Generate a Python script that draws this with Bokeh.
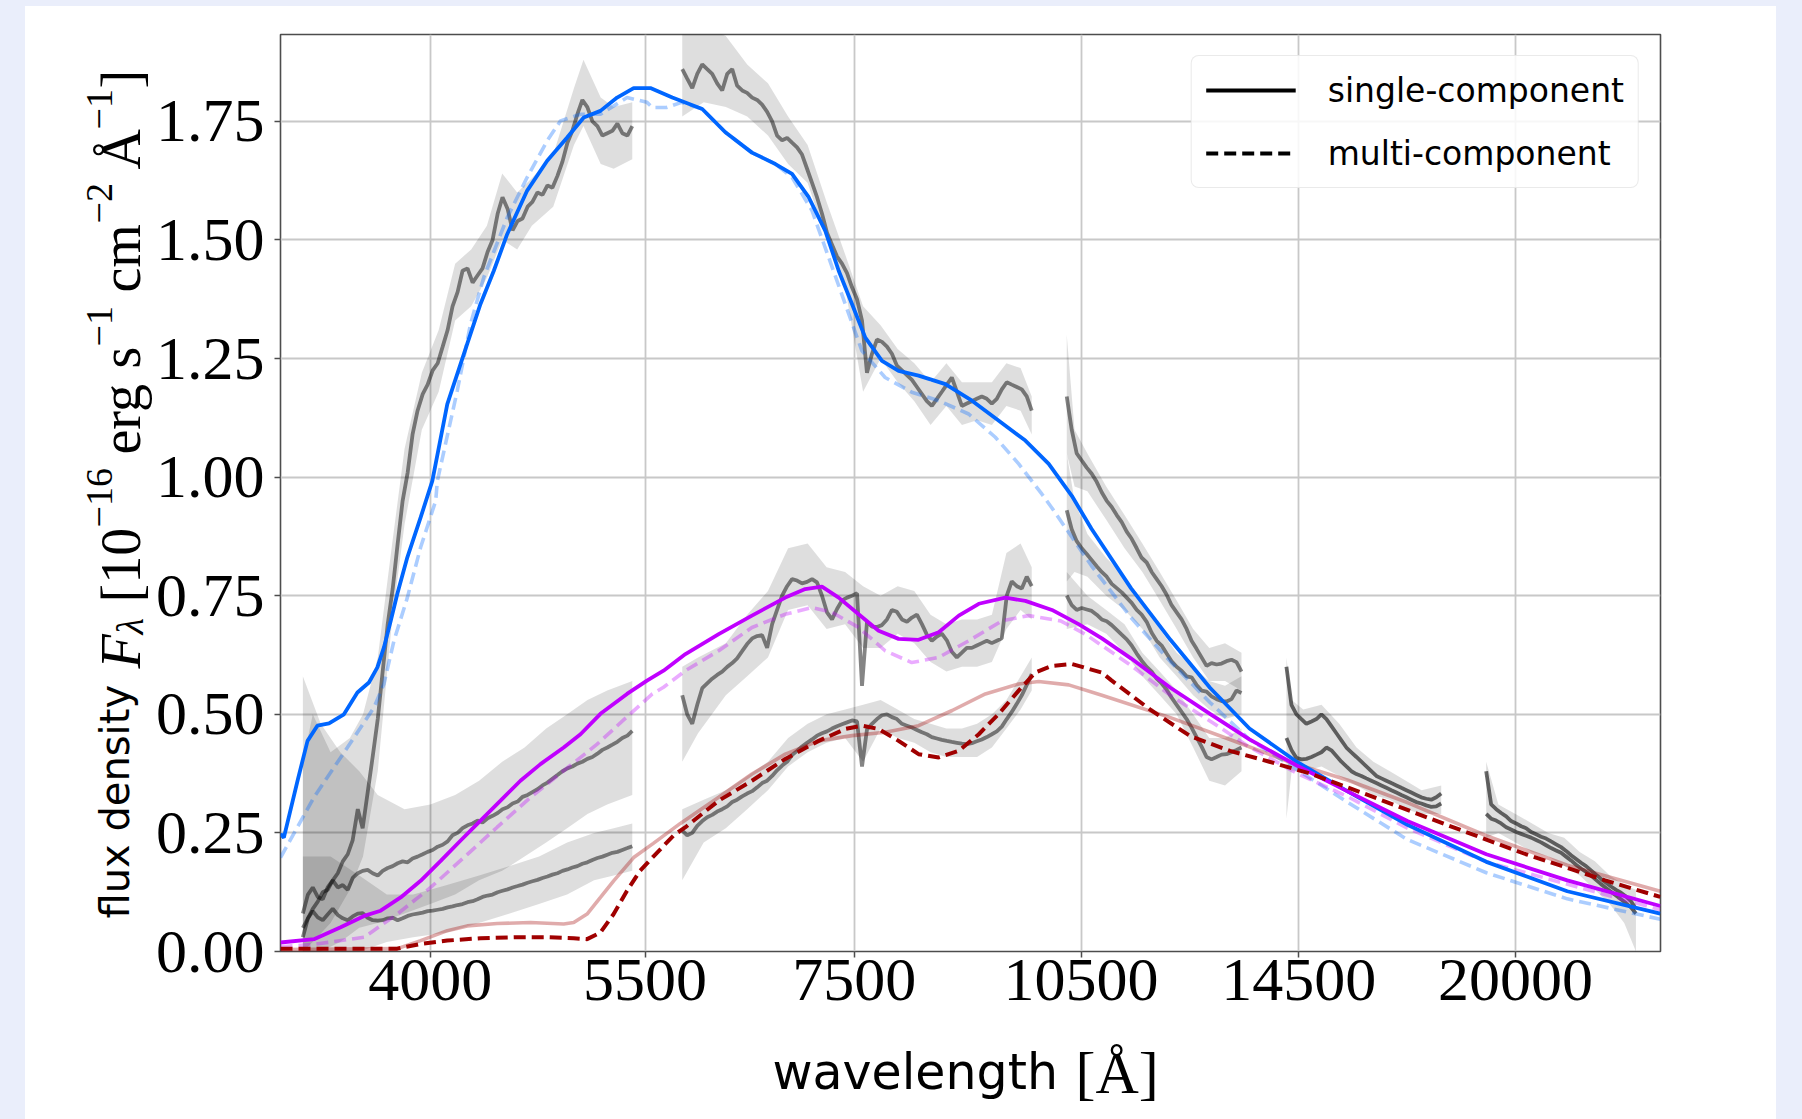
import math
from bokeh.plotting import figure
from bokeh.layouts import row, column
from bokeh.models import Range1d, FixedTicker, PrintfTickFormatter, Label, Legend, LegendItem, BasicTickFormatter
from bokeh.embed import file_html
from bokeh.resources import INLINE

# ---------------- data (wavelength in Angstrom, flux in 1e-16 erg/s/cm2/A) ----------------
# epoch-1 model, single component (solid) and multi component (dashed)
blue_single_wl = [3203, 3219, 3285, 3334, 3383, 3442, 3519, 3590, 3652, 3698, 3734, 3772, 3809, 3866, 3943, 4012,
                  4102, 4225, 4309, 4395, 4483, 4618, 4757, 4900, 5022, 5148, 5277, 5408, 5544, 5727, 5987, 6196,
                  6445, 6673, 6840, 7011, 7186, 7330, 7476, 7625, 7816, 8011, 8252, 8587, 8932, 9295, 9668, 10009,
                  10360, 10664, 11307, 11989, 12713, 13480, 14459, 15602, 17037, 19155, 21597, 24792]
blue_single_fl = [0.248, 0.240, 0.360, 0.444, 0.476, 0.481, 0.500, 0.546, 0.567, 0.599, 0.641, 0.697, 0.754, 0.831,
                  0.915, 0.992, 1.154, 1.281, 1.365, 1.435, 1.512, 1.604, 1.667, 1.716, 1.758, 1.772, 1.800, 1.820,
                  1.820, 1.800, 1.776, 1.727, 1.684, 1.660, 1.639, 1.590, 1.519, 1.435, 1.365, 1.294, 1.245, 1.224,
                  1.214, 1.196, 1.161, 1.119, 1.077, 1.028, 0.960, 0.891, 0.766, 0.657, 0.556, 0.470, 0.400, 0.337,
                  0.267, 0.189, 0.127, 0.080]
blue_multi_wl = [3203, 3366, 3537, 3680, 3734, 3790, 3866, 3943, 4032, 4042, 4163, 4246, 4330, 4483, 4618, 4757,
                 4852, 4998, 5148, 5355, 5516, 5560, 5676, 5806, 5987, 6196, 6445, 6673, 6840, 7045, 7222, 7401,
                 7587, 7853, 8169, 8502, 8889, 9247, 9573, 9909, 10057, 10664, 11307, 11989, 12713, 13480, 14459,
                 15602, 17037, 19155, 21597, 24792]
blue_multi_fl = [0.198, 0.325, 0.430, 0.515, 0.564, 0.655, 0.746, 0.852, 0.950, 0.992, 1.182, 1.323, 1.421, 1.547,
                 1.632, 1.709, 1.751, 1.765, 1.765, 1.800, 1.790, 1.779, 1.779, 1.790, 1.776, 1.727, 1.684, 1.660,
                 1.632, 1.562, 1.463, 1.365, 1.266, 1.210, 1.179, 1.161, 1.133, 1.084, 1.028, 0.964, 0.935, 0.813,
                 0.704, 0.611, 0.525, 0.447, 0.384, 0.314, 0.236, 0.166, 0.111, 0.068]

# epoch-2 model
mag_single_wl = [3203, 3366, 3502, 3626, 3716, 3828, 3943, 4062, 4184, 4309, 4439, 4572, 4710, 4875, 4998, 5148,
                 5355, 5516, 5653, 5840, 6135, 6445, 6772, 6975, 7150, 7330, 7550, 7777, 8011, 8252, 8502, 8759,
                 9023, 9385, 9668, 10057, 10462, 10830, 11307, 11989, 12713, 13480, 14459, 15602, 17037, 19155,
                 21597, 24792]
mag_single_fl = [0.019, 0.026, 0.051, 0.075, 0.086, 0.114, 0.149, 0.191, 0.234, 0.276, 0.318, 0.360, 0.395, 0.430,
                 0.458, 0.501, 0.543, 0.571, 0.592, 0.627, 0.669, 0.708, 0.746, 0.764, 0.769, 0.746, 0.711, 0.676,
                 0.659, 0.657, 0.673, 0.708, 0.733, 0.746, 0.739, 0.720, 0.690, 0.660, 0.618, 0.556, 0.501, 0.447,
                 0.392, 0.337, 0.275, 0.205, 0.150, 0.096]
mag_multi_wl = [3203, 3366, 3626, 3809, 4002, 4204, 4417, 4641, 4875, 5123, 5381, 5560, 5653, 5840, 6135, 6445,
                6772, 7045, 7258, 7550, 7853, 8169, 8502, 8889, 9340, 9716, 10187, 10566, 11307, 11989, 12713,
                13480, 14459, 15602, 17037, 19155, 24792]
mag_multi_fl = [0.010, 0.015, 0.030, 0.079, 0.135, 0.198, 0.262, 0.325, 0.381, 0.437, 0.501, 0.543, 0.557, 0.592,
                0.634, 0.683, 0.711, 0.725, 0.715, 0.683, 0.634, 0.609, 0.620, 0.655, 0.697, 0.708, 0.697, 0.669,
                0.603, 0.540, 0.486, 0.431, 0.376, 0.326, 0.260, 0.189, 0.088]

# epoch-3 model
red_multi_wl = [3203, 3809, 3943, 4102, 4309, 4527, 4757, 4948, 5047, 5148, 5250, 5355, 5459, 5568, 5739, 5840,
                6135, 6445, 6772, 7116, 7401, 7587, 7777, 8011, 8252, 8502, 8759, 9023, 9295, 9573, 9811, 10057,
                10360, 10830, 10980, 11645, 12347, 13096, 13885, 14720, 16066, 18060, 20313, 22842, 24792]
red_multi_fl = [0.006, 0.006, 0.016, 0.023, 0.028, 0.030, 0.030, 0.028, 0.026, 0.040, 0.079, 0.128, 0.170, 0.200,
                0.245, 0.262, 0.318, 0.360, 0.406, 0.444, 0.469, 0.476, 0.469, 0.444, 0.416, 0.409, 0.423, 0.458,
                0.501, 0.550, 0.588, 0.602, 0.606, 0.588, 0.572, 0.509, 0.454, 0.423, 0.400, 0.376, 0.330, 0.267,
                0.205, 0.150, 0.115]
red_single_wl = [3203, 3809, 3943, 4102, 4225, 4417, 4641, 4875, 4948, 5047, 5148, 5250, 5408, 5568, 5796, 6135,
                 6445, 6772, 7116, 7476, 7853, 8252, 8673, 9111, 9573, 9860, 10310, 10830, 11989, 13096, 14291,
                 15602, 17037, 19155, 21597, 24792]
red_single_fl = [0.004, 0.006, 0.023, 0.044, 0.054, 0.059, 0.061, 0.058, 0.061, 0.079, 0.114, 0.149, 0.198, 0.228,
                 0.270, 0.325, 0.374, 0.416, 0.444, 0.455, 0.462, 0.476, 0.508, 0.543, 0.564, 0.569, 0.562, 0.540,
                 0.493, 0.447, 0.400, 0.361, 0.314, 0.244, 0.182, 0.127]

# observed spectra, optical blue arm (shared wavelength grid)
obs_a_wl = [3311, 3336, 3360, 3385, 3410, 3435, 3461, 3487, 3513, 3539, 3565, 3592, 3618, 3645, 3672, 3700, 3727,
            3755, 3783, 3811, 3839, 3868, 3896, 3925, 3955, 3984, 4014, 4044, 4074, 4104, 4134, 4165, 4196, 4227,
            4259, 4290, 4322, 4355, 4387, 4420, 4452, 4486, 4519, 4553, 4586, 4621, 4654, 4689, 4724, 4759, 4794,
            4830, 4866, 4902, 4938, 4975, 5012, 5049, 5087, 5125, 5163, 5201, 5240, 5279, 5318, 5358, 5397]
obs1_a = [0.03, 0.07, 0.09, 0.105, 0.125, 0.13, 0.15, 0.165, 0.19, 0.205, 0.235, 0.30, 0.26, 0.335, 0.41, 0.49,
          0.59, 0.69, 0.765, 0.86, 0.95, 1.01, 1.09, 1.14, 1.175, 1.195, 1.225, 1.24, 1.275, 1.31, 1.36, 1.39, 1.435,
          1.44, 1.41, 1.425, 1.44, 1.475, 1.50, 1.555, 1.59, 1.565, 1.52, 1.54, 1.545, 1.57, 1.58, 1.6, 1.595, 1.615,
          1.61, 1.635, 1.665, 1.705, 1.73, 1.765, 1.795, 1.78, 1.75, 1.74, 1.72, 1.725, 1.73, 1.745, 1.725, 1.72, 1.74]
obs2_a = [0.08, 0.12, 0.135, 0.115, 0.11, 0.135, 0.15, 0.135, 0.14, 0.13, 0.155, 0.165, 0.17, 0.172, 0.165, 0.16,
          0.17, 0.176, 0.18, 0.186, 0.19, 0.188, 0.196, 0.20, 0.205, 0.21, 0.214, 0.221, 0.225, 0.232, 0.245, 0.25,
          0.26, 0.266, 0.27, 0.276, 0.272, 0.281, 0.286, 0.292, 0.30, 0.304, 0.312, 0.316, 0.326, 0.33, 0.336, 0.342,
          0.35, 0.356, 0.364, 0.372, 0.38, 0.386, 0.39, 0.396, 0.40, 0.406, 0.41, 0.417, 0.425, 0.43, 0.436, 0.442,
          0.45, 0.455, 0.465]
obs3_a = [0.05, 0.07, 0.085, 0.072, 0.066, 0.078, 0.09, 0.077, 0.07, 0.066, 0.074, 0.08, 0.081, 0.071, 0.066,
          0.065, 0.066, 0.07, 0.071, 0.066, 0.07, 0.075, 0.078, 0.08, 0.082, 0.085, 0.086, 0.088, 0.09, 0.093, 0.095,
          0.098, 0.10, 0.104, 0.106, 0.11, 0.115, 0.118, 0.12, 0.125, 0.128, 0.131, 0.135, 0.138, 0.141, 0.145,
          0.148, 0.151, 0.155, 0.158, 0.162, 0.165, 0.17, 0.173, 0.177, 0.18, 0.185, 0.188, 0.193, 0.197, 0.20,
          0.204, 0.208, 0.21, 0.214, 0.218, 0.222]

# observed spectra, optical red arm
obs_b_wl = [5812, 5855, 5899, 5943, 5987, 6031, 6076, 6121, 6167, 6213, 6259, 6305, 6352, 6399, 6447, 6495, 6543,
            6592, 6641, 6690, 6740, 6790, 6840, 6891, 6942, 6994, 7046, 7098, 7151, 7204, 7258, 7312, 7366, 7421,
            7476, 7532, 7588, 7644, 7701, 7758, 7816, 7874, 7932, 7991, 8051, 8111, 8171, 8232, 8293, 8354, 8416,
            8479, 8542, 8605, 8669, 8734, 8799, 8864, 8930, 8996, 9063, 9131, 9199, 9267, 9336, 9405, 9475, 9546,
            9617, 9688, 9760]
obs1_b = [1.86, 1.84, 1.82, 1.85, 1.87, 1.86, 1.85, 1.83, 1.815, 1.85, 1.86, 1.825, 1.815, 1.81, 1.80, 1.795,
          1.785, 1.77, 1.75, 1.72, 1.71, 1.715, 1.705, 1.695, 1.68, 1.65, 1.62, 1.59, 1.555, 1.515, 1.49, 1.465,
          1.45, 1.43, 1.40, 1.375, 1.33, 1.22, 1.26, 1.29, 1.285, 1.275, 1.26, 1.235, 1.225, 1.215, 1.205, 1.19,
          1.175, 1.16, 1.15, 1.165, 1.18, 1.195, 1.21, 1.18, 1.15, 1.155, 1.16, 1.165, 1.17, 1.165, 1.155, 1.165,
          1.185, 1.20, 1.195, 1.19, 1.185, 1.17, 1.14]
obs2_b = [0.54, 0.50, 0.48, 0.52, 0.555, 0.565, 0.575, 0.583, 0.59, 0.60, 0.608, 0.618, 0.633, 0.648, 0.66, 0.665,
          0.667, 0.64, 0.69, 0.72, 0.75, 0.77, 0.785, 0.782, 0.776, 0.779, 0.785, 0.778, 0.75, 0.715, 0.70, 0.722,
          0.74, 0.746, 0.75, 0.755, 0.56, 0.695, 0.685, 0.684, 0.688, 0.70, 0.72, 0.716, 0.70, 0.695, 0.704, 0.71,
          0.69, 0.668, 0.655, 0.664, 0.67, 0.656, 0.632, 0.62, 0.63, 0.64, 0.64, 0.645, 0.65, 0.655, 0.65, 0.655,
          0.66, 0.75, 0.78, 0.77, 0.765, 0.79, 0.77]
obs3_b = [0.255, 0.245, 0.25, 0.265, 0.275, 0.283, 0.288, 0.295, 0.30, 0.306, 0.315, 0.32, 0.327, 0.333, 0.338,
          0.346, 0.355, 0.36, 0.37, 0.382, 0.392, 0.40, 0.414, 0.423, 0.432, 0.44, 0.447, 0.455, 0.46, 0.464, 0.47,
          0.475, 0.479, 0.483, 0.487, 0.485, 0.39, 0.468, 0.48, 0.49, 0.498, 0.50, 0.494, 0.49, 0.48, 0.476, 0.472,
          0.467, 0.462, 0.458, 0.452, 0.449, 0.446, 0.444, 0.442, 0.44, 0.438, 0.437, 0.439, 0.443, 0.447, 0.452,
          0.458, 0.464, 0.474, 0.49, 0.505, 0.522, 0.54, 0.562, 0.585]

# observed spectra, near-IR arm
obs_c_wl = [10280, 10356, 10433, 10511, 10589, 10668, 10747, 10827, 10908, 10989, 11071, 11153, 11236, 11319, 11404,
            11488, 11574, 11660, 11747, 11834, 11922, 12010, 12100, 12189, 12280, 12371, 12463, 12556, 12649, 12743,
            12838, 12933, 13029, 13126, 13224, 13322]
obs1_c = [1.17, 1.10, 1.05, 1.035, 1.02, 1.007, 0.99, 0.968, 0.95, 0.937, 0.92, 0.905, 0.885, 0.87, 0.85, 0.83,
          0.82, 0.80, 0.785, 0.77, 0.752, 0.73, 0.715, 0.70, 0.68, 0.655, 0.638, 0.62, 0.602, 0.608, 0.605, 0.607,
          0.612, 0.615, 0.61, 0.59]
obs2_c = [0.93, 0.89, 0.865, 0.85, 0.838, 0.825, 0.812, 0.80, 0.79, 0.775, 0.766, 0.757, 0.746, 0.735, 0.72, 0.71,
          0.695, 0.672, 0.655, 0.645, 0.628, 0.612, 0.60, 0.592, 0.58, 0.578, 0.562, 0.55, 0.548, 0.538, 0.532,
          0.528, 0.527, 0.532, 0.55, 0.545]
obs3_c = [0.75, 0.73, 0.72, 0.724, 0.721, 0.718, 0.71, 0.70, 0.696, 0.688, 0.678, 0.668, 0.658, 0.645, 0.628,
          0.613, 0.60, 0.59, 0.575, 0.565, 0.552, 0.535, 0.52, 0.505, 0.49, 0.472, 0.452, 0.432, 0.41, 0.405, 0.41,
          0.415, 0.416, 0.42, 0.425, 0.43]

obs_d_wl = [14240, 14346, 14453, 14560, 14668, 14778, 14888, 14998, 15110, 15222, 15335, 15449, 15564, 15680, 15797,
            15914, 16032, 16151, 16271, 16392, 16514, 16637, 16761, 16885, 17011, 17137, 17264, 17392, 17521, 17652,
            17783, 17915]
obs1_d = [0.60, 0.52, 0.50, 0.49, 0.48, 0.485, 0.49, 0.50, 0.49, 0.475, 0.46, 0.445, 0.43, 0.42, 0.41, 0.40, 0.39,
          0.38, 0.37, 0.365, 0.36, 0.355, 0.35, 0.345, 0.34, 0.335, 0.33, 0.325, 0.322, 0.32, 0.325, 0.333]
obs2_d = [0.45, 0.425, 0.408, 0.405, 0.406, 0.41, 0.415, 0.42, 0.43, 0.424, 0.412, 0.40, 0.39, 0.38, 0.374, 0.37,
          0.365, 0.36, 0.355, 0.35, 0.345, 0.34, 0.335, 0.33, 0.325, 0.32, 0.315, 0.312, 0.308, 0.305, 0.306, 0.312]

obs_e_wl = [19150, 19292, 19436, 19580, 19726, 19872, 20020, 20169, 20319, 20470, 20622, 20775, 20930, 21085, 21242,
            21400, 21559, 21719, 21881, 22043, 22207, 22372, 22538, 22706, 22875, 23045, 23216, 23388, 23562, 23737,
            23913]
obs1_e = [0.38, 0.31, 0.30, 0.292, 0.285, 0.275, 0.27, 0.264, 0.26, 0.252, 0.247, 0.242, 0.238, 0.232, 0.226, 0.22,
          0.212, 0.203, 0.195, 0.187, 0.18, 0.171, 0.162, 0.153, 0.145, 0.137, 0.13, 0.124, 0.116, 0.106, 0.09]
obs2_e = [0.29, 0.28, 0.276, 0.27, 0.262, 0.257, 0.252, 0.248, 0.244, 0.24, 0.235, 0.23, 0.224, 0.218, 0.213, 0.208,
          0.20, 0.192, 0.183, 0.175, 0.168, 0.16, 0.151, 0.142, 0.134, 0.126, 0.118, 0.11, 0.102, 0.093, 0.08]

# uncertainty envelopes (wavelength, lower, upper)
band1_a = ([3311, 3360, 3450, 3550, 3620, 3700, 3780, 3850, 3950, 4050, 4150, 4250, 4350, 4450, 4550, 4650, 4800,
            4950, 5020, 5150, 5250, 5397],
           [0.00, 0.02, 0.06, 0.13, 0.20, 0.38, 0.70, 0.90, 1.10, 1.18, 1.33, 1.36, 1.42, 1.50, 1.48, 1.53, 1.57,
            1.70, 1.74, 1.66, 1.65, 1.67],
           [0.40, 0.50, 0.42, 0.45, 0.50, 0.62, 0.86, 1.06, 1.22, 1.31, 1.45, 1.48, 1.53, 1.64, 1.60, 1.63, 1.68,
            1.82, 1.88, 1.80, 1.78, 1.79])
band2_a = ([3311, 3400, 3500, 3600, 3700, 3850, 4000, 4150, 4300, 4450, 4600, 4750, 4900, 5050, 5200, 5397],
           [0.00, 0.00, 0.02, 0.05, 0.06, 0.08, 0.10, 0.12, 0.15, 0.17, 0.20, 0.23, 0.26, 0.29, 0.31, 0.33],
           [0.58, 0.48, 0.42, 0.38, 0.33, 0.30, 0.31, 0.33, 0.36, 0.40, 0.43, 0.47, 0.50, 0.53, 0.55, 0.57])
band3_a = ([3311, 3450, 3600, 3750, 3900, 4100, 4300, 4500, 4700, 4900, 5100, 5250, 5397],
           [0.00, 0.00, 0.00, 0.02, 0.03, 0.04, 0.06, 0.08, 0.10, 0.12, 0.15, 0.16, 0.17],
           [0.20, 0.20, 0.16, 0.12, 0.12, 0.14, 0.16, 0.18, 0.20, 0.23, 0.25, 0.26, 0.27])
band1_b = ([5812, 6000, 6200, 6400, 6600, 6800, 7000, 7200, 7400, 7600, 7800, 8000, 8200, 8400, 8600, 8800, 9000,
            9200, 9400, 9600, 9760],
           [1.76, 1.79, 1.78, 1.76, 1.72, 1.66, 1.62, 1.50, 1.40, 1.18, 1.25, 1.20, 1.16, 1.11, 1.15, 1.11, 1.12,
            1.11, 1.15, 1.14, 1.09],
           [1.95, 1.95, 1.93, 1.87, 1.83, 1.76, 1.70, 1.58, 1.47, 1.36, 1.32, 1.27, 1.24, 1.20, 1.24, 1.20, 1.20,
            1.20, 1.24, 1.23, 1.17])
band2_b = ([5812, 5950, 6200, 6400, 6600, 6800, 7000, 7200, 7400, 7600, 7800, 8000, 8200, 8400, 8600, 8800, 9000,
            9200, 9400, 9600, 9760],
           [0.40, 0.46, 0.54, 0.58, 0.62, 0.72, 0.73, 0.68, 0.69, 0.64, 0.64, 0.67, 0.65, 0.61, 0.59, 0.60, 0.60,
            0.61, 0.68, 0.72, 0.70],
           [0.60, 0.62, 0.65, 0.71, 0.76, 0.85, 0.86, 0.81, 0.80, 0.77, 0.75, 0.77, 0.76, 0.71, 0.69, 0.70, 0.70,
            0.71, 0.84, 0.86, 0.81])
band3_b = ([5812, 6000, 6200, 6400, 6600, 6800, 7000, 7200, 7400, 7600, 7800, 8000, 8200, 8400, 8600, 8800, 9000,
            9200, 9400, 9600, 9760],
           [0.15, 0.23, 0.26, 0.30, 0.34, 0.39, 0.42, 0.44, 0.45, 0.40, 0.47, 0.45, 0.44, 0.42, 0.41, 0.41, 0.41,
            0.43, 0.47, 0.51, 0.55],
           [0.30, 0.32, 0.34, 0.37, 0.40, 0.45, 0.48, 0.50, 0.51, 0.52, 0.53, 0.51, 0.49, 0.48, 0.47, 0.47, 0.48,
            0.50, 0.53, 0.58, 0.62])
band1_c = ([10280, 10400, 10600, 10900, 11200, 11500, 11800, 12100, 12400, 12700, 13000, 13322],
           [1.05, 0.98, 0.97, 0.91, 0.85, 0.80, 0.74, 0.68, 0.62, 0.57, 0.57, 0.55],
           [1.30, 1.10, 1.05, 0.98, 0.92, 0.86, 0.80, 0.74, 0.68, 0.64, 0.65, 0.63])
band2_c = ([10280, 10400, 10600, 10900, 11200, 11500, 11800, 12100, 12400, 12700, 13000, 13322],
           [0.78, 0.80, 0.79, 0.75, 0.72, 0.68, 0.62, 0.58, 0.54, 0.51, 0.49, 0.50],
           [1.05, 0.95, 0.88, 0.83, 0.79, 0.74, 0.68, 0.63, 0.60, 0.57, 0.56, 0.58])
band3_c = ([10280, 10600, 10900, 11200, 11500, 11800, 12100, 12400, 12700, 13000, 13322],
           [0.68, 0.69, 0.67, 0.63, 0.58, 0.54, 0.50, 0.43, 0.36, 0.35, 0.38],
           [0.80, 0.75, 0.72, 0.69, 0.63, 0.59, 0.55, 0.50, 0.45, 0.45, 0.47])
band_d = ([14240, 14350, 14600, 15000, 15400, 15800, 16200, 16600, 17000, 17400, 17915],
          [0.28, 0.38, 0.38, 0.39, 0.37, 0.35, 0.33, 0.32, 0.30, 0.29, 0.29],
          [0.62, 0.53, 0.51, 0.52, 0.48, 0.43, 0.40, 0.38, 0.36, 0.34, 0.35])
band_e = ([19150, 19500, 20000, 20500, 21000, 21500, 22000, 22500, 23000, 23500, 23913],
          [0.24, 0.25, 0.23, 0.21, 0.20, 0.18, 0.16, 0.13, 0.10, 0.06, 0.00],
          [0.40, 0.31, 0.29, 0.27, 0.25, 0.24, 0.21, 0.19, 0.16, 0.14, 0.13])

x_ticks = [4000, 5500, 7500, 10500, 14500, 20000]
y_ticks = [0.0, 0.25, 0.5, 0.75, 1.0, 1.25, 1.5, 1.75]

# ---------------- layout geometry (pixels) ----------------
CARD_L, CARD_T, CARD_R, CARD_B = 25, 6, 1776, 1119
YLAB_W = 127                      # strip holding the y-axis title
MAIN_H = 1034                     # main figure height
MAIN_W = CARD_R - CARD_L - YLAB_W
FRAME_L = 277.7                   # page x of the main frame's left edge


def no_align(fig):
    try:
        fig.frame_align = False
        return True
    except Exception:
        return False


p = figure(width=MAIN_W, height=MAIN_H, x_axis_type="log", output_backend="svg", toolbar_location=None,
           x_range=Range1d(3203, 24800), y_range=Range1d(0, 1.933),
           min_border_left=126, min_border_right=116, min_border_top=28, min_border_bottom=89)
no_align(p)
p.background_fill_color = "white"
p.border_fill_color = "white"
p.outline_line_color = "#4d4d4d"
p.outline_line_width = 1.6

p.xaxis.ticker = FixedTicker(ticks=x_ticks, minor_ticks=[])
p.xaxis.formatter = BasicTickFormatter(use_scientific=False)
p.yaxis.ticker = FixedTicker(ticks=y_ticks, minor_ticks=[])
p.yaxis.formatter = PrintfTickFormatter(format="%.2f")
for ax in (p.xaxis, p.yaxis):
    ax.axis_line_color = None
    ax.major_tick_in = 0
    ax.major_tick_out = 6
    ax.major_tick_line_color = "#4d4d4d"
    ax.major_tick_line_width = 1.5
    ax.minor_tick_line_color = None
    ax.major_label_text_font = "Liberation Serif"
    ax.major_label_text_font_size = "62px"
    ax.major_label_text_color = "black"
p.xaxis.major_label_standoff = 2
p.yaxis.major_label_standoff = 10
p.xgrid.grid_line_color = "#c8c8c8"
p.ygrid.grid_line_color = "#c8c8c8"
p.xgrid.grid_line_width = 1.8
p.ygrid.grid_line_width = 1.8

# uncertainty envelopes
for bx, blo, bhi in (band1_a, band2_a, band3_a, band1_b, band2_b, band3_b, band1_c, band2_c, band3_c, band_d, band_e):
    p.varea(x=bx, y1=blo, y2=bhi, fill_color="black", fill_alpha=0.13)

# observed spectra
for wl, fl in ((obs_a_wl, obs1_a), (obs_a_wl, obs2_a), (obs_a_wl, obs3_a),
               (obs_b_wl, obs1_b), (obs_b_wl, obs2_b), (obs_b_wl, obs3_b),
               (obs_c_wl, obs1_c), (obs_c_wl, obs2_c), (obs_c_wl, obs3_c)):
    p.line(wl, fl, line_color="black", line_alpha=0.48, line_width=3.8)
for wl, fl in ((obs_d_wl, obs1_d), (obs_d_wl, obs2_d), (obs_e_wl, obs1_e), (obs_e_wl, obs2_e)):
    p.line(wl, fl, line_color="black", line_alpha=0.58, line_width=3.8)

BLUE, MAG, RED = "#0066ff", "#c000ff", "#a00000"
DASH = "12 6"
# faded (non-preferred) models
p.line(blue_multi_wl, blue_multi_fl, line_color=BLUE, line_alpha=0.33, line_width=3.6, line_dash=DASH)
p.line(mag_multi_wl, mag_multi_fl, line_color=MAG, line_alpha=0.33, line_width=3.6, line_dash=DASH)
p.line(red_single_wl, red_single_fl, line_color=RED, line_alpha=0.33, line_width=3.6)
# highlighted models
p.line(blue_single_wl, blue_single_fl, line_color=BLUE, line_width=3.8)
p.line(mag_single_wl, mag_single_fl, line_color=MAG, line_width=3.8)
p.line(red_multi_wl, red_multi_fl, line_color=RED, line_width=4.0, line_dash=DASH)

# legend with black proxies
r_single = p.line([float("nan")], [float("nan")], line_color="black", line_width=3.8)
r_multi = p.line([float("nan")], [float("nan")], line_color="black", line_width=3.8, line_dash=DASH)
legend = Legend(items=[LegendItem(label="single-component", renderers=[r_single]),
                       LegendItem(label="multi-component", renderers=[r_multi])],
                location="top_right", margin=21, padding=14, spacing=23,
                glyph_width=90, glyph_height=40, label_height=40, label_standoff=32,
                label_text_font="DejaVu Sans", label_text_font_size="33px", label_text_color="black",
                border_line_color="#d6d6d6", border_line_width=1.5,
                background_fill_color="white", background_fill_alpha=0.85)
try:
    legend.border_radius = 8
except Exception:
    pass
p.add_layout(legend)


# ---------------- axis titles: separate strips whose frames fill the whole strip ----------------
def strip(w, h):
    f = figure(width=w, height=h, output_backend="svg", toolbar_location=None,
               x_range=Range1d(0, w), y_range=Range1d(0, h), min_border=0,
               x_axis_location=None, y_axis_location=None)
    f.grid.visible = False
    f.outline_line_color = None
    f.background_fill_color = "white"
    f.border_fill_color = "white"
    return f


ylab = strip(YLAB_W, CARD_B - CARD_T)
xlab = strip(MAIN_W, CARD_B - CARD_T - MAIN_H)
no_align(ylab)
xl_ok = no_align(xlab)
SERIF = "Liberation Serif"


def put(fig, left, text, px, py, font, size, angle=0.0, style="normal"):
    # px, py: page position of the text anchor
    fig.add_layout(Label(x=px - left, y=CARD_B - py, x_units="screen", y_units="screen", text=text,
                         angle=angle, text_font=font, text_font_size=f"{size}px", text_font_style=style,
                         text_align="left", text_baseline="alphabetic", text_color="black"))


R = math.pi / 2
YL = CARD_L
put(ylab, YL, "flux density", 114, 918, "DejaVu Sans", 40, R)
put(ylab, YL, "F", 120, 668, SERIF, 56, R, "italic")
put(ylab, YL, "λ", 129, 634, SERIF, 38, R, "italic")
put(ylab, YL, "[10", 120, 602, SERIF, 56, R)
put(ylab, YL, "−16", 99, 527, SERIF, 38, R)
put(ylab, YL, "erg", 120, 454, SERIF, 56, R)
put(ylab, YL, "s", 120, 368, SERIF, 56, R)
put(ylab, YL, "−1", 99, 346, SERIF, 38, R)
put(ylab, YL, "cm", 120, 292, SERIF, 56, R)
put(ylab, YL, "−2", 99, 223, SERIF, 38, R)
put(ylab, YL, "Å", 120, 169, SERIF, 56, R)
put(ylab, YL, "−1", 99, 129, SERIF, 38, R)
put(ylab, YL, "]", 120, 88, SERIF, 56, R)

XL = (CARD_L + YLAB_W) if xl_ok else FRAME_L
put(xlab, XL, "wavelength", 772, 1072, "DejaVu Sans", 49)
put(xlab, XL, "[Å]", 1075, 1072, SERIF, 60)

layout = row(ylab, column(p, xlab, spacing=0), spacing=0)
layout.margin = (CARD_T, 0, 0, CARD_L)
try:
    layout.styles = {"background-color": "white"}
except Exception:
    pass

html = file_html(layout, INLINE)
html = html.replace("<head>", "<head><style>html,body{margin:0;padding:0;background:#eaeefb;}</style>", 1)
open("out.html", "w").write(html)
